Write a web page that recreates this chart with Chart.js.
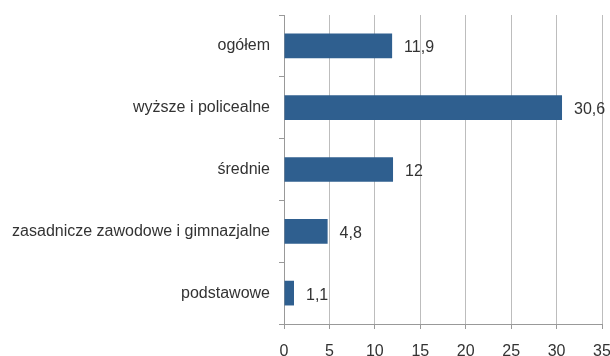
<!DOCTYPE html>
<html lang="pl">
<head>
<meta charset="utf-8">
<script src="https://cdn.jsdelivr.net/npm/chart.js@4/dist/chart.umd.min.js"></script>
<style>
  html, body { margin: 0; padding: 0; background: #fff; }
  #wrap { width: 610px; height: 356px; }
</style>
</head>
<body>
<div id="wrap"><canvas id="c" width="610" height="356"></canvas></div>
<script>
// Kategorie wykształcenia i odpowiadające im wartości
const categories = [
  'ogółem',
  'wyższe i policealne',
  'średnie',
  'zasadnicze zawodowe i gimnazjalne',
  'podstawowe'
];
const values = [11.9, 30.6, 12, 4.8, 1.1];
const axisMin = 0;
const axisMax = 35;
const axisStep = 5;

const FONT = '"Liberation Sans", Arial, sans-serif';
const TEXT = '#333333';

// Etykiety wartości z przecinkiem dziesiętnym, rysowane za końcem słupka
const valueLabels = {
  id: 'valueLabels',
  afterDatasetsDraw(chart) {
    const ctx = chart.ctx;
    const meta = chart.getDatasetMeta(0);
    ctx.save();
    ctx.font = '16px ' + FONT;
    ctx.fillStyle = TEXT;
    ctx.textAlign = 'left';
    ctx.textBaseline = 'middle';
    meta.data.forEach((bar, i) => {
      const txt = String(values[i]).replace('.', ',');
      ctx.fillText(txt, bar.x + 12, bar.y + 2);
    });
    ctx.restore();
  }
};

new Chart(document.getElementById('c'), {
  type: 'bar',
  data: {
    labels: categories,
    datasets: [{
      data: values,
      backgroundColor: '#2f5f8f',
      borderWidth: 0,
      barPercentage: 0.4,
      categoryPercentage: 1
    }]
  },
  options: {
    indexAxis: 'y',
    responsive: false,
    animation: false,
    layout: { padding: { top: 15, right: 0, bottom: 0, left: 0 } },
    plugins: {
      legend: { display: false },
      tooltip: { enabled: false }
    },
    scales: {
      x: {
        min: axisMin,
        max: axisMax,
        ticks: {
          stepSize: axisStep,
          color: TEXT,
          font: { family: FONT, size: 16 },
          padding: 13,
          maxRotation: 0
        },
        grid: {
          color: '#bdbdbd',
          lineWidth: 1,
          tickLength: 5,
          tickColor: '#999999'
        },
        border: { color: '#999999', width: 1 },
        afterFit(scale) {
          scale.height = 32;
          scale.paddingLeft = 0;
          scale.paddingRight = 8;
        }
      },
      y: {
        ticks: {
          color: TEXT,
          font: { family: FONT, size: 16 },
          padding: 9
        },
        grid: {
          offset: true,
          drawOnChartArea: false,
          tickLength: 5,
          color: '#999999'
        },
        border: { color: '#999999', width: 1 },
        afterFit(scale) {
          scale.width = 284;
          scale.paddingTop = 0;
          scale.paddingBottom = 0;
        }
      }
    }
  },
  plugins: [valueLabels]
});
</script>
</body>
</html>
